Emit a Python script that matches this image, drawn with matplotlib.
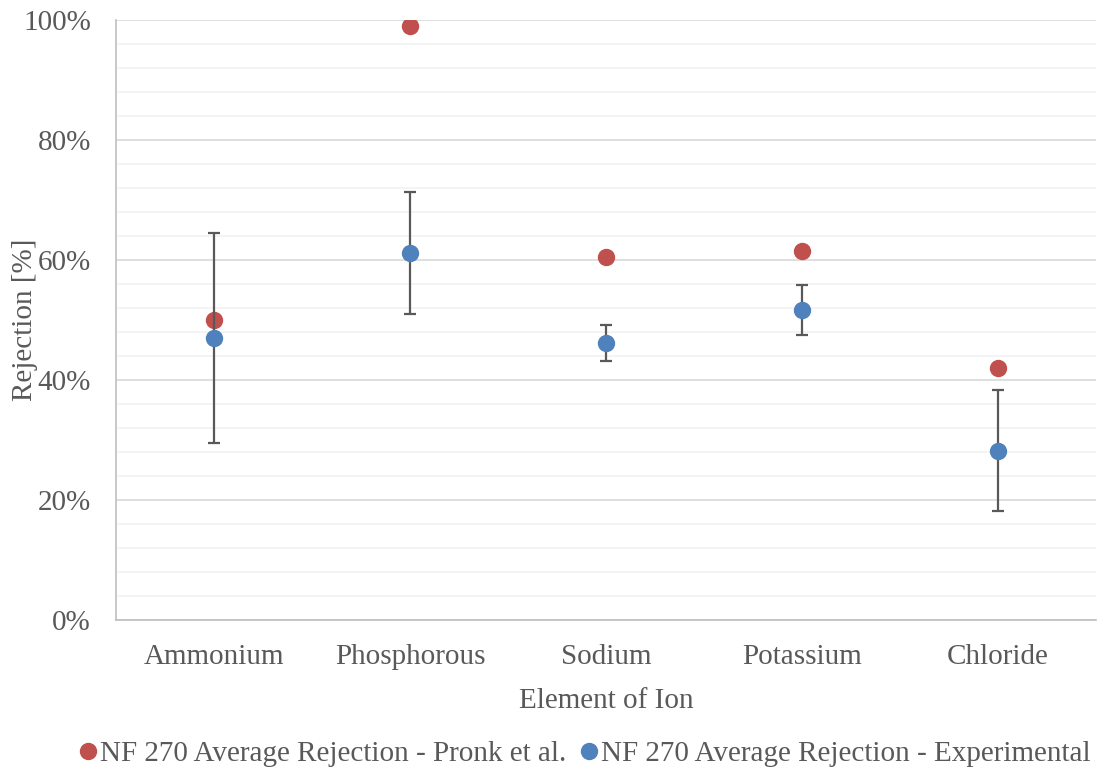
import numpy as np
import matplotlib
matplotlib.use("Agg")
import matplotlib.pyplot as plt
from matplotlib.ticker import MultipleLocator, PercentFormatter
from matplotlib.lines import Line2D

ions = ['Ammonium', 'Phosphorous', 'Sodium', 'Potassium', 'Chloride']
pronk = [50.0, 99.0, 60.5, 61.5, 42.0]
experimental = [47.0, 61.2, 46.2, 51.7, 28.2]
exp_err = [17.5, 10.2, 3.0, 4.2, 10.1]

plt.rcParams['font.family'] = ['Liberation Serif', 'DejaVu Serif']
txt = '#595959'
fs = 21

fig = plt.figure(figsize=(11.05, 7.71), dpi=100)
ax = fig.add_axes([116/1105, 1-620/771, 980/1105, 600/771])

x = np.arange(len(ions))
ax.plot(x, pronk, 'o', color='#C0504D', markersize=11.5, zorder=4,
        label='NF 270 Average Rejection - Pronk et al.')
ax.errorbar(x, experimental, yerr=exp_err, fmt='o', color='#4F81BD',
            markersize=11.5, ecolor='#595959', elinewidth=1.6, capsize=4.5,
            capthick=1.6, zorder=5,
            label='NF 270 Average Rejection - Experimental')

ax.set_xlim(-0.5, len(ions)-0.5)
ax.set_ylim(0, 100)
ax.yaxis.set_major_locator(MultipleLocator(20))
ax.yaxis.set_minor_locator(MultipleLocator(4))
ax.yaxis.set_major_formatter(PercentFormatter(decimals=0))
ax.set_xticks(x)
ax.set_xticklabels(ions)
ax.grid(axis='y', which='major', color='#D9D9D9', linewidth=1.2, zorder=0)
ax.grid(axis='y', which='minor', color='#F2F2F2', linewidth=1.2, zorder=0)
ax.set_axisbelow(True)

for s in ['top', 'right']:
    ax.spines[s].set_visible(False)
for s in ['left', 'bottom']:
    ax.spines[s].set_color('#BFBFBF')
    ax.spines[s].set_linewidth(1.2)

ax.tick_params(axis='both', which='both', length=0, labelsize=fs, colors=txt)
ax.tick_params(axis='y', pad=18)
ax.tick_params(axis='x', pad=17)

ax.set_xlabel('Element of Ion', fontsize=fs, color=txt, labelpad=13)
ax.set_ylabel('Rejection [%]', fontsize=fs, color=txt)
ax.yaxis.set_label_coords(-0.08, 0.5)

labels = ['NF 270 Average Rejection - Pronk et al.',
          'NF 270 Average Rejection - Experimental']
h = [Line2D([], [], ls='none', marker='o', color='#C0504D', markersize=11.5),
     Line2D([], [], ls='none', marker='o', color='#4F81BD', markersize=11.5)]
fig.legend(h, labels, loc='center', bbox_to_anchor=(0.53, 1-754/771), ncol=2,
           frameon=False, fontsize=fs, labelcolor=txt, handlelength=0.5,
           handletextpad=0.15, columnspacing=0.55)

fig.savefig('out.png', dpi=100)
